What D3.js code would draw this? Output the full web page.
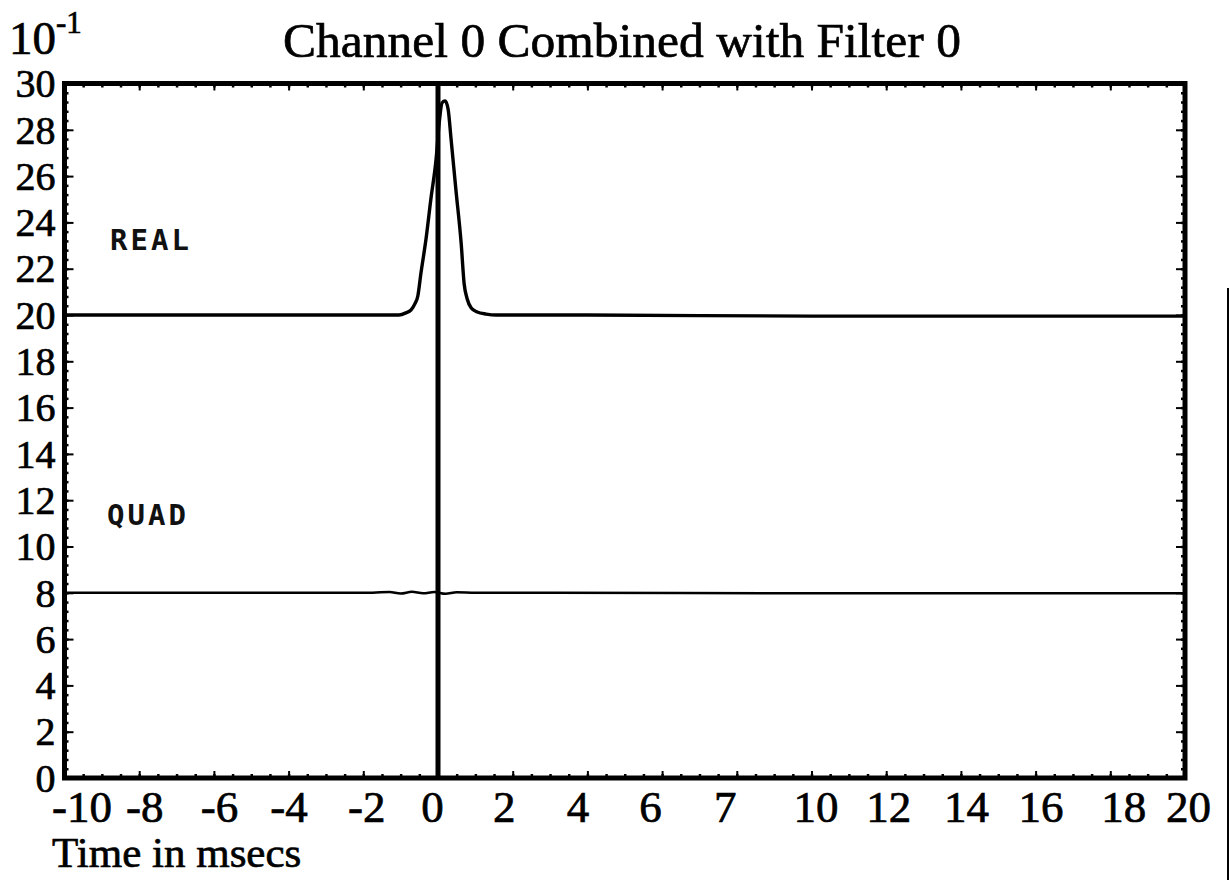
<!DOCTYPE html>
<html>
<head>
<meta charset="utf-8">
<script src="https://cdn.jsdelivr.net/npm/d3@7/dist/d3.min.js"></script>
<style>
  html, body { margin: 0; padding: 0; background: #fff; }
  svg { display: block; }
  .serif { font-family: "Liberation Serif", "Times New Roman", serif; fill: #000; stroke: #000; stroke-width: 0.7px; }
  .tag { font-family: "DejaVu Sans Mono", monospace; font-weight: bold; fill: #111; letter-spacing: 3px; }
</style>
</head>
<body>
<svg id="chart" width="1230" height="880"></svg>
<script>
// Time axis (msecs) and its printed tick labels
const xTickValues = [-10, -8, -6, -4, -2, 0, 2, 4, 6, 8, 10, 12, 14, 16, 18, 20];
const xTickLabels = ["-10", "-8", "-6", "-4", "-2", "0", "2", "4", "6", "7", "10", "12", "14", "16", "18", "20"];
// Amplitude axis (units of 10^-1)
const yTickValues = [0, 2, 4, 6, 8, 10, 12, 14, 16, 18, 20, 22, 24, 26, 28, 30];

// REAL trace
const realTime  = [-10, -6, -2, -1.05, -0.86, -0.72, -0.62, -0.54, -0.46, -0.32, -0.19, -0.05, 0.03, 0.11, 0.19, 0.27, 0.35, 0.48, 0.62, 0.70, 0.78, 0.89, 1.05, 1.29, 1.56, 4, 10, 20];
const realValue = [20, 20, 20, 20.0, 20.09, 20.22, 20.48, 20.82, 21.77, 23.29, 25.02, 26.75, 28.26, 29.17, 29.25, 28.9, 27.6, 25.4, 23.1, 21.35, 20.7, 20.3, 20.13, 20.04, 20.0, 20, 19.95, 19.95];

// QUAD trace
const quadTime  = [-10, -5, -2, -1.3, -1.0, -0.7, -0.4, -0.1, 0.2, 0.5, 1, 3, 10, 20];
const quadValue = [8, 8, 8.0, 8.03, 7.97, 8.04, 7.98, 8.03, 7.96, 8.02, 8, 8, 7.98, 7.98];

const svg = d3.select("#chart");
const plotLeft = 64.5, plotRight = 1185, plotTop = 83.5, plotBottom = 778;

const x = d3.scaleLinear().domain([-10, 20]).range([plotLeft, plotRight]);
const y = d3.scaleLinear().domain([0, 30]).range([plotBottom, plotTop]);

// Title and exponent marker
svg.append("text").attr("class", "serif")
  .attr("x", 622).attr("y", 57).attr("text-anchor", "middle")
  .attr("font-size", 49.5).text("Channel 0 Combined with Filter 0");

const expo = svg.append("text").attr("class", "serif").attr("x", 9).attr("y", 54).attr("font-size", 47);
expo.append("tspan").text("10");
expo.append("tspan").attr("font-size", 31).attr("dy", -21).text("-1");

// Minor inward ticks on all four sides
const minorY = d3.range(0, 30.001, 0.4);
const minorX = d3.range(-10, 20.001, 0.5);

function styleTicks(g, w) {
  g.select(".domain").remove();
  g.selectAll("line").attr("stroke", "#000").attr("stroke-width", w);
}

svg.append("g").attr("transform", `translate(${plotLeft},0)`)
  .call(d3.axisLeft(y).tickValues(minorY).tickSize(-4).tickFormat(""))
  .call(g => styleTicks(g, 2.5));
svg.append("g").attr("transform", `translate(${plotRight},0)`)
  .call(d3.axisRight(y).tickValues(minorY).tickSize(-4).tickFormat(""))
  .call(g => styleTicks(g, 2.5));
svg.append("g").attr("transform", `translate(0,${plotBottom})`)
  .call(d3.axisBottom(x).tickValues(minorX).tickSize(-4).tickFormat(""))
  .call(g => styleTicks(g, 2.5));
svg.append("g").attr("transform", `translate(0,${plotTop})`)
  .call(d3.axisTop(x).tickValues(minorX).tickSize(-4).tickFormat(""))
  .call(g => styleTicks(g, 2.5));

// Major ticks with labels
svg.append("g").attr("transform", `translate(${plotLeft},0)`)
  .call(d3.axisLeft(y).tickValues(yTickValues).tickSize(-9).tickPadding(9).tickFormat(d3.format("d")))
  .call(g => {
    styleTicks(g, 2);
    g.selectAll("text").attr("class", "serif").attr("font-size", 40)
      .attr("font-family", null).attr("dy", "0.33em");
  });
svg.append("g").attr("transform", `translate(${plotRight},0)`)
  .call(d3.axisRight(y).tickValues(yTickValues).tickSize(-9).tickFormat(""))
  .call(g => styleTicks(g, 2));

// Hand-set horizontal nudges of the printed time labels (px)
const xLabelNudge = [17, 5, 5, 0, 3, -6, -9, -10, -12, -12, 4, 2, 5, 5, 13, 3];
svg.append("g").attr("transform", `translate(0,${plotBottom})`)
  .call(d3.axisBottom(x).tickValues(xTickValues).tickSize(-7).tickPadding(12)
    .tickFormat((d, i) => xTickLabels[i]))
  .call(g => {
    styleTicks(g, 2);
    g.selectAll("text").attr("class", "serif").attr("font-size", 45).attr("font-family", null)
      .attr("dx", (d, i) => xLabelNudge[i]);
  });
svg.append("g").attr("transform", `translate(0,${plotTop})`)
  .call(d3.axisTop(x).tickValues(xTickValues).tickSize(-7).tickFormat(""))
  .call(g => styleTicks(g, 2));

// Axis caption
svg.append("text").attr("class", "serif")
  .attr("x", 52).attr("y", 867).attr("font-size", 43).text("Time in msecs");

// Traces
const line = d3.line().x(d => x(d[0])).y(d => y(d[1])).curve(d3.curveMonotoneX);
const realPts = realTime.map((t, i) => [t, realValue[i]]);
const quadPts = quadTime.map((t, i) => [t, quadValue[i]]);

svg.append("path").datum(quadPts).attr("d", line)
  .attr("fill", "none").attr("stroke", "#000").attr("stroke-width", 2.5);
svg.append("path").datum(realPts).attr("d", line)
  .attr("fill", "none").attr("stroke", "#000").attr("stroke-width", 3.4)
  .attr("stroke-linejoin", "round");

// Zero-time marker
svg.append("line")
  .attr("x1", x(0)).attr("x2", x(0)).attr("y1", y(30)).attr("y2", y(0))
  .attr("stroke", "#000").attr("stroke-width", 5);

// Trace tags
svg.append("text").attr("class", "tag").attr("x", 110).attr("y", 250)
  .attr("font-size", 29).text("REAL");
svg.append("text").attr("class", "tag").attr("x", 107).attr("y", 525)
  .attr("font-size", 29).text("QUAD");

// Plot frame
svg.append("rect")
  .attr("x", plotLeft).attr("y", plotTop).attr("width", plotRight - plotLeft).attr("height", plotBottom - plotTop)
  .attr("fill", "none").attr("stroke", "#000").attr("stroke-width", 5);

// Right margin rule
svg.append("line").attr("x1", 1228).attr("x2", 1228).attr("y1", 288).attr("y2", 880)
  .attr("stroke", "#000").attr("stroke-width", 2);
</script>
</body>
</html>
